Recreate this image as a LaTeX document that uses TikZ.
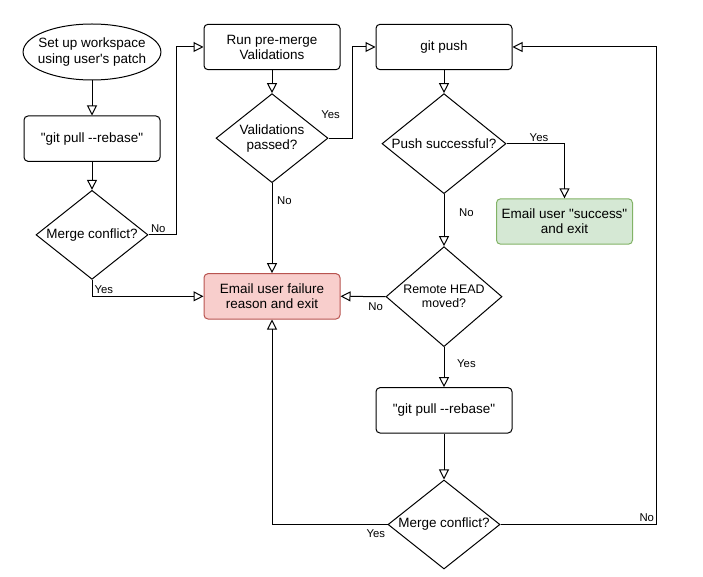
\documentclass[tikz,border=0pt]{standalone}
\usepackage{fontspec}
\setmainfont{Liberation Sans}[Ligatures=TeXOff]
\usetikzlibrary{arrows.meta,positioning,shapes.geometric}
\definecolor{failfill}{HTML}{F8CECC}
\definecolor{faildraw}{HTML}{B85450}
\definecolor{okfill}{HTML}{D5E8D4}
\definecolor{okdraw}{HTML}{82B366}
\tikzset{
  stepbox/.style={
    draw=black,
    rounded corners=3pt,
    align=center,
    minimum width=102pt,
    minimum height=34pt,
    inner sep=2pt,
    line width=0.75pt,
    font=\fontsize{10.1}{11.3}\selectfont
  },
  startnode/.style={
    ellipse,
    draw=black,
    align=center,
    minimum width=102pt,
    minimum height=42pt,
    inner xsep=-4pt,
    inner ysep=0pt,
    line width=0.75pt,
    font=\fontsize{10.1}{11.3}\selectfont
  },
  decision/.style={
    diamond,
    draw=black,
    aspect=1.25,
    align=center,
    minimum width=84pt,
    minimum height=66.75pt,
    inner sep=0pt,
    line width=0.75pt,
    font=\fontsize{10.1}{11.3}\selectfont
  },
  failbox/.style={stepbox, draw=faildraw, fill=failfill},
  okbox/.style={stepbox, draw=okdraw, fill=okfill},
  flowarrow/.style={
    -{Triangle[open,length=7.5pt,width=7.5pt]},
    line width=0.75pt
  },
  lbl/.style={
    font=\fontsize{8.5}{10}\selectfont,
    inner sep=1.5pt
  }
}
\begin{document}
\begin{tikzpicture}[x=0.75pt, y=-0.75pt]
  \useasboundingbox (0,0) rectangle (703,577);
  % left column
  \node[startnode] (start) at (92,52) {Set up workspace\\using user's patch};
  \node[stepbox, below=26.25pt of start] (pull1) {"git pull --rebase"};
  \node[decision, below=21pt of pull1] (merge1) {Merge conflict?};
  % middle column
  \node[stepbox] (premerge) at (272,47) {Run pre-merge\\Validations};
  \node[decision, below=17.25pt of premerge] (valid) {Validations\\passed?};
  \node[failbox, below=67.5pt of valid] (failure) {Email user failure\\reason and exit};
  % right column
  \node[stepbox] (gitpush) at (444,47) {git push};
  \node[decision, minimum width=93pt, minimum height=75pt, below=17.25pt of gitpush] (pushok) {Push successful?};
  \node[decision, minimum width=87pt, minimum height=75pt, below=39pt of pushok,
    font=\fontsize{9.3}{10.5}\selectfont] (remote) {Remote HEAD\\moved?};
  \node[stepbox, below=30pt of remote] (pull2) {"git pull --rebase"};
  \node[decision, below=34.5pt of pull2] (merge2) {Merge conflict?};
  \node[okbox] (success) at (564.5,221.5) {Email user "success"\\and exit};

  \draw[flowarrow] (start) -- (pull1);
  \draw[flowarrow] (pull1) -- (merge1);
  \draw[flowarrow] (merge1.east) -- node[lbl, pos=0, anchor=south west]{No} ++(28,0) |- (premerge.west);
  \draw[flowarrow] (merge1.south) |- node[lbl, pos=0.5, anchor=south west]{Yes} (failure.west);
  \draw[flowarrow] (premerge) -- (valid);
  \draw[flowarrow] (valid.east) -- node[lbl, pos=0, anchor=south, xshift=1.5pt, yshift=13pt]{Yes} ++(24,0) |- (gitpush.west);
  \draw[flowarrow] (valid) -- node[lbl, pos=0.19, right, xshift=2pt]{No} (failure);
  \draw[flowarrow] (gitpush) -- (pushok);
  \draw[flowarrow] (pushok.east) -| node[lbl, pos=0.28, above]{Yes} (success.north);
  \draw[flowarrow] (pushok) -- node[lbl, pos=0.35, right, xshift=9.5pt]{No} (remote);
  \draw[flowarrow] (remote.west) -- node[lbl, pos=0.22, below, yshift=-2.5pt]{No} (failure.east);
  \draw[flowarrow] (remote) -- node[lbl, pos=0.4, right, xshift=8pt]{Yes} (pull2);
  \draw[flowarrow] (pull2) -- (merge2);
  \draw[flowarrow] (merge2.west) -| node[lbl, pos=0, below left, yshift=-2pt]{Yes} (failure.south);
  \draw[flowarrow] (merge2.east) -- node[lbl, pos=1, above left]{No} ++(156,0) |- (gitpush.east);
\end{tikzpicture}
\end{document}
